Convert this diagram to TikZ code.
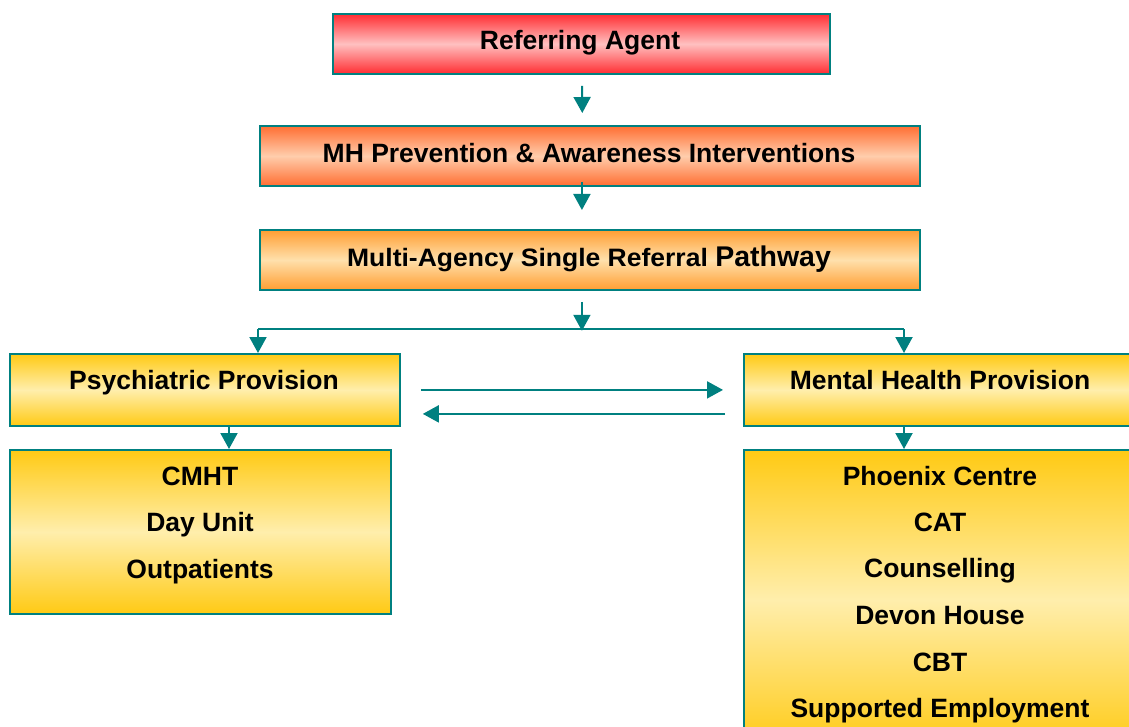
\documentclass[tikz,border=0pt]{standalone}
\usepackage{graphicx}
\usepackage{fontspec}
\setmainfont{Liberation Sans}
\usetikzlibrary{arrows.meta,calc}

\definecolor{edgeteal}{RGB}{0,128,128}
\definecolor{redE}{RGB}{255,45,50}
\definecolor{redM}{RGB}{255,192,192}
\definecolor{orE}{RGB}{255,110,50}
\definecolor{orM}{RGB}{255,205,172}
\definecolor{apE}{RGB}{255,158,50}
\definecolor{apM}{RGB}{255,224,172}
\definecolor{yeE}{RGB}{255,202,20}
\definecolor{yeM}{RGB}{255,238,172}

\tikzset{
  box/.style={draw=edgeteal, line width=1.8pt, rectangle, inner sep=0pt,
              anchor=north west},
  redbox/.style={box, top color=redE, bottom color=redE, middle color=redM},
  orbox/.style={box, top color=orE, bottom color=orE, middle color=orM},
  apbox/.style={box, top color=apE, bottom color=apE, middle color=apM},
  yebox/.style={box, top color=yeE, bottom color=yeE, middle color=yeM},
  lbl/.style={font=\fontsize{26.5}{30}\selectfont\bfseries, anchor=base,
              inner sep=0pt},
  link/.style={draw=edgeteal, line width=2pt},
  arr/.style={link, -{Triangle[width=17pt,length=16pt]}},
}

\begin{document}
\begin{tikzpicture}[x=1pt,y=-1pt]
\useasboundingbox (0,0) rectangle (1129,727);
\clip (0,0) rectangle (1129,727);

% boxes
\node[redbox, minimum width=497pt, minimum height=60pt] (refa) at (332,13) {};
\node[orbox,  minimum width=660pt, minimum height=60pt] (prev) at (259,125) {};
\node[apbox,  minimum width=660pt, minimum height=60pt] (multi) at (259,229) {};
\node[yebox,  minimum width=390pt, minimum height=72pt] (psy) at (9,353) {};
\node[yebox,  minimum width=394pt, minimum height=72pt] (mhp) at (743,353) {};
\node[yebox,  minimum width=381pt, minimum height=164pt] (cmht) at (9,449) {};
\node[yebox,  minimum width=394pt, minimum height=300pt] (mhlist) at (743,449) {};

% labels
\node[lbl] (refat) at (580,50) {Referring Agent};
\node[lbl] (prevt) at (589,163) {MH Prevention \& Awareness Interventions};
\node[lbl] (multit) at (589,266) {\scalebox{1}[0.95]{Multi-Agency Single Referral} {\fontsize{28.5}{30}\selectfont Pathway}};
\node[lbl] (psyt) at (204,389) {Psychiatric Provision};
\node[lbl] (mhpt) at (940,389) {Mental Health Provision};

\node[lbl] (l1) at (200,485) {CMHT};
\node[lbl] (l2) at (200,531) {Day Unit};
\node[lbl] (l3) at (200,578) {Outpatients};

\node[lbl] (r1) at (940,485) {Phoenix Centre};
\node[lbl] (r2) at (940,531) {CAT};
\node[lbl] (r3) at (940,577) {Counselling};
\node[lbl] (r4) at (940,624) {Devon House};
\node[lbl] (r5) at (940,671) {CBT};
\node[lbl] (r6) at (940,717) {Supported Employment};

% connectors
\draw[arr, shorten <=11pt, shorten >=12pt] ($(refa.south)+(0.5,0)$) -- ($(prev.north)+(-7.5,0)$);
\draw[arr, shorten <=-5pt, shorten >=19pt] ($(prev.south)+(-8,0)$) -- ($(multi.north)+(-8,0)$);

\coordinate (split) at ($(multi.south)+(-8,40)$);
\coordinate (splitL) at (258,329);
\coordinate (splitR) at (904,329);
\draw[arr, shorten <=11pt] ($(multi.south)+(-8,0)$) -- (split);
\draw[link] (splitL) -- (splitR);
\draw[arr] (splitL) -- (splitL |- psy.north);
\draw[arr] (splitR) -- (splitR |- mhp.north);

\draw[arr] ($(psy.south west)+(220,0)$) -- ($(cmht.north west)+(220,0)$);
\draw[arr] ($(mhp.south west)+(161,0)$) -- ($(mhlist.north west)+(161,0)$);

\draw[arr, shorten <=20pt, shorten >=20pt] (psy.east) -- (mhp.west);
\draw[arr, shorten <=18pt, shorten >=22pt] ($(mhp.west)+(0,24)$) -- ($(psy.east)+(0,24)$);
\end{tikzpicture}
\end{document}
